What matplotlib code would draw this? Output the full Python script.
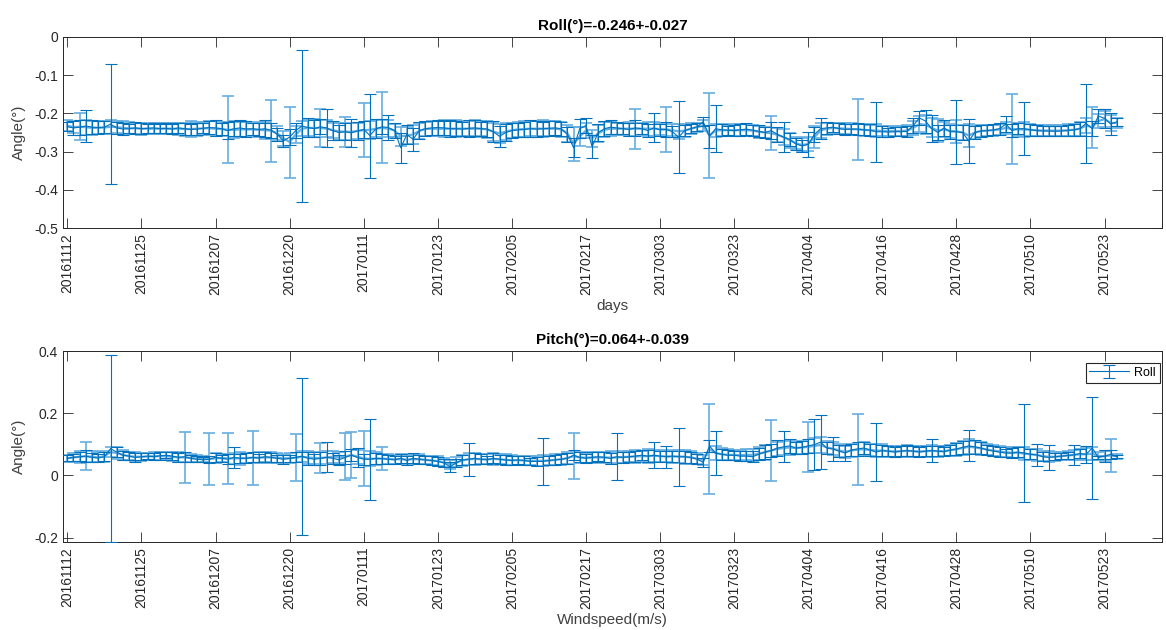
import numpy as np
import matplotlib
matplotlib.use("Agg")
import matplotlib.pyplot as plt

plt.rcParams['font.family'] = ['Liberation Sans', 'DejaVu Sans']

tick_labels = ["20161112", "20161125", "20161207", "20161220", "20170111",
               "20170123", "20170205", "20170217", "20170303", "20170323",
               "20170404", "20170416", "20170428", "20170510", "20170523"]

# ---------------- Roll: raw (dark) ----------------
roll_raw = [
    -0.235, -0.238, -0.236, -0.233, -0.236, -0.237, -0.236, -0.228, -0.238, -0.241,
    -0.240, -0.238, -0.240, -0.239, -0.238, -0.240, -0.239, -0.241, -0.238, -0.240,
    -0.242, -0.241, -0.239, -0.237, -0.238, -0.240, -0.245, -0.240, -0.238, -0.241,
    -0.240, -0.242, -0.240, -0.244, -0.255, -0.272, -0.262, -0.245, -0.233, -0.237,
    -0.240, -0.235, -0.238, -0.245, -0.250, -0.248, -0.251, -0.246, -0.242, -0.258,
    -0.240, -0.235, -0.237, -0.245, -0.290, -0.255, -0.268, -0.245, -0.240, -0.238,
    -0.237, -0.238, -0.240, -0.240, -0.241, -0.239, -0.238, -0.240, -0.241, -0.248,
    -0.260, -0.250, -0.245, -0.243, -0.242, -0.240, -0.241, -0.240, -0.239, -0.238,
    -0.240, -0.255, -0.290, -0.240, -0.232, -0.287, -0.250, -0.240, -0.236, -0.238,
    -0.240, -0.242, -0.238, -0.240, -0.245, -0.238, -0.243, -0.242, -0.248, -0.262,
    -0.245, -0.240, -0.235, -0.222, -0.260, -0.240, -0.243, -0.244, -0.245, -0.243,
    -0.241, -0.244, -0.247, -0.250, -0.245, -0.255, -0.262, -0.268, -0.280, -0.285,
    -0.281, -0.255, -0.240, -0.238, -0.236, -0.240, -0.242, -0.241, -0.241, -0.243,
    -0.244, -0.248, -0.248, -0.249, -0.248, -0.248, -0.247, -0.232, -0.212, -0.220,
    -0.240, -0.250, -0.238, -0.248, -0.248, -0.250, -0.272, -0.250, -0.246, -0.245,
    -0.243, -0.240, -0.228, -0.245, -0.240, -0.240, -0.243, -0.245, -0.246, -0.246,
    -0.247, -0.246, -0.245, -0.243, -0.240, -0.226, -0.240, -0.207, -0.213, -0.228,
    -0.222]
roll_raw_err = [
    0.012, 0.018, 0.020, 0.043, 0.018, 0.017, 0.016, 0.158, 0.015, 0.016,
    0.012, 0.015, 0.014, 0.012, 0.013, 0.012, 0.013, 0.012, 0.014, 0.016,
    0.014, 0.015, 0.013, 0.018, 0.020, 0.016, 0.022, 0.020, 0.022, 0.020,
    0.016, 0.018, 0.022, 0.020, 0.017, 0.016, 0.022, 0.020, 0.198, 0.025,
    0.022, 0.020, 0.049, 0.025, 0.020, 0.022, 0.036, 0.024, 0.022, 0.110,
    0.025, 0.020, 0.033, 0.020, 0.040, 0.025, 0.030, 0.022, 0.020, 0.018,
    0.020, 0.018, 0.022, 0.020, 0.018, 0.022, 0.020, 0.018, 0.020, 0.028,
    0.028, 0.022, 0.020, 0.018, 0.020, 0.022, 0.020, 0.018, 0.020, 0.018,
    0.018, 0.020, 0.025, 0.025, 0.020, 0.030, 0.022, 0.020, 0.018, 0.015,
    0.015, 0.018, 0.020, 0.015, 0.018, 0.038, 0.015, 0.020, 0.015, 0.095,
    0.015, 0.012, 0.010, 0.012, 0.030, 0.061, 0.015, 0.012, 0.014, 0.015,
    0.015, 0.014, 0.016, 0.014, 0.022, 0.020, 0.040, 0.018, 0.016, 0.015,
    0.032, 0.020, 0.028, 0.015, 0.012, 0.014, 0.015, 0.014, 0.016, 0.014,
    0.015, 0.078, 0.014, 0.012, 0.012, 0.012, 0.014, 0.020, 0.018, 0.030,
    0.035, 0.020, 0.022, 0.018, 0.084, 0.020, 0.057, 0.016, 0.015, 0.014,
    0.014, 0.016, 0.020, 0.018, 0.015, 0.069, 0.016, 0.015, 0.014, 0.013,
    0.013, 0.014, 0.015, 0.016, 0.018, 0.103, 0.020, 0.018, 0.025, 0.028,
    0.011]

# ---------------- Roll: smooth (light) ----------------
roll_smooth = [
    -0.232, -0.236, -0.235, -0.236, -0.238, -0.238, -0.237, -0.235, -0.236, -0.238,
    -0.239, -0.239, -0.240, -0.240, -0.240, -0.240, -0.240, -0.240, -0.240, -0.241,
    -0.241, -0.240, -0.239, -0.239, -0.240, -0.241, -0.243, -0.243, -0.242, -0.242,
    -0.242, -0.243, -0.244, -0.245, -0.252, -0.265, -0.275, -0.255, -0.240, -0.238,
    -0.238, -0.238, -0.240, -0.244, -0.247, -0.248, -0.248, -0.246, -0.244, -0.243,
    -0.240, -0.238, -0.240, -0.245, -0.260, -0.258, -0.255, -0.246, -0.241, -0.240,
    -0.240, -0.240, -0.240, -0.240, -0.240, -0.240, -0.240, -0.240, -0.242, -0.248,
    -0.252, -0.248, -0.244, -0.242, -0.241, -0.240, -0.240, -0.240, -0.240, -0.240,
    -0.242, -0.252, -0.280, -0.260, -0.245, -0.265, -0.252, -0.243, -0.240, -0.240,
    -0.240, -0.240, -0.240, -0.240, -0.240, -0.240, -0.241, -0.242, -0.244, -0.247,
    -0.245, -0.240, -0.236, -0.232, -0.258, -0.245, -0.244, -0.244, -0.244, -0.244,
    -0.244, -0.245, -0.248, -0.250, -0.252, -0.256, -0.262, -0.270, -0.278, -0.283,
    -0.280, -0.262, -0.245, -0.240, -0.238, -0.239, -0.240, -0.241, -0.242, -0.243,
    -0.244, -0.245, -0.246, -0.246, -0.246, -0.246, -0.245, -0.238, -0.228, -0.230,
    -0.238, -0.245, -0.242, -0.246, -0.247, -0.250, -0.258, -0.250, -0.246, -0.245,
    -0.244, -0.242, -0.238, -0.241, -0.242, -0.242, -0.243, -0.244, -0.245, -0.245,
    -0.245, -0.245, -0.244, -0.243, -0.240, -0.232, -0.236, -0.220, -0.215, -0.225,
    -0.225]
roll_smooth_err = [
    0.014, 0.016, 0.035, 0.020, 0.018, 0.017, 0.016, 0.018, 0.016, 0.017,
    0.016, 0.015, 0.016, 0.014, 0.015, 0.014, 0.015, 0.014, 0.016, 0.017,
    0.020, 0.018, 0.016, 0.018, 0.020, 0.018, 0.088, 0.022, 0.020, 0.020,
    0.018, 0.020, 0.022, 0.081, 0.018, 0.020, 0.093, 0.022, 0.020, 0.022,
    0.024, 0.050, 0.022, 0.020, 0.022, 0.039, 0.022, 0.020, 0.070, 0.024,
    0.022, 0.093, 0.022, 0.018, 0.025, 0.022, 0.025, 0.020, 0.018, 0.020,
    0.020, 0.022, 0.020, 0.022, 0.020, 0.020, 0.022, 0.020, 0.022, 0.024,
    0.025, 0.022, 0.020, 0.020, 0.022, 0.020, 0.020, 0.022, 0.020, 0.020,
    0.020, 0.022, 0.045, 0.025, 0.020, 0.022, 0.022, 0.020, 0.018, 0.016,
    0.016, 0.018, 0.052, 0.016, 0.018, 0.018, 0.016, 0.058, 0.016, 0.020,
    0.016, 0.014, 0.012, 0.014, 0.112, 0.018, 0.016, 0.014, 0.015, 0.016,
    0.016, 0.015, 0.016, 0.015, 0.045, 0.018, 0.020, 0.020, 0.016, 0.018,
    0.018, 0.028, 0.020, 0.016, 0.014, 0.015, 0.014, 0.015, 0.081, 0.016,
    0.014, 0.016, 0.013, 0.012, 0.013, 0.012, 0.014, 0.018, 0.020, 0.025,
    0.025, 0.030, 0.020, 0.018, 0.030, 0.020, 0.030, 0.018, 0.016, 0.015,
    0.014, 0.015, 0.016, 0.091, 0.016, 0.020, 0.015, 0.014, 0.014, 0.014,
    0.014, 0.014, 0.015, 0.016, 0.018, 0.020, 0.054, 0.018, 0.020, 0.020,
    0.012]

# ---------------- Pitch: raw (dark) ----------------
pitch_raw = [
    0.055, 0.058, 0.060, 0.062, 0.058, 0.056, 0.060, 0.086, 0.075, 0.065,
    0.062, 0.058, 0.060, 0.062, 0.060, 0.063, 0.065, 0.062, 0.058, 0.060,
    0.055, 0.052, 0.050, 0.052, 0.058, 0.055, 0.052, 0.058, 0.055, 0.055,
    0.058, 0.056, 0.060, 0.058, 0.055, 0.052, 0.055, 0.058, 0.062, 0.055,
    0.052, 0.055, 0.058, 0.055, 0.050, 0.058, 0.065, 0.058, 0.052, 0.052,
    0.055, 0.054, 0.052, 0.050, 0.055, 0.048, 0.055, 0.052, 0.050, 0.048,
    0.045, 0.040, 0.028, 0.040, 0.050, 0.052, 0.055, 0.052, 0.050, 0.055,
    0.052, 0.050, 0.048, 0.050, 0.048, 0.045, 0.045, 0.045, 0.048, 0.050,
    0.052, 0.055, 0.065, 0.058, 0.055, 0.058, 0.060, 0.058, 0.055, 0.060,
    0.058, 0.060, 0.062, 0.065, 0.062, 0.065, 0.062, 0.060, 0.062, 0.060,
    0.060, 0.058, 0.052, 0.042, 0.095, 0.072, 0.068, 0.065, 0.065, 0.062,
    0.062, 0.060, 0.068, 0.075, 0.080, 0.088, 0.092, 0.095, 0.088, 0.090,
    0.095, 0.099, 0.107, 0.088, 0.085, 0.078, 0.072, 0.082, 0.085, 0.088,
    0.082, 0.075, 0.080, 0.078, 0.075, 0.078, 0.080, 0.078, 0.075, 0.078,
    0.080, 0.078, 0.076, 0.082, 0.085, 0.090, 0.095, 0.092, 0.088, 0.082,
    0.078, 0.075, 0.072, 0.072, 0.075, 0.072, 0.068, 0.066, 0.060, 0.058,
    0.060, 0.062, 0.064, 0.066, 0.070, 0.068, 0.088, 0.058, 0.062, 0.068,
    0.060]
pitch_raw_err = [
    0.010, 0.012, 0.015, 0.020, 0.015, 0.014, 0.015, 0.300, 0.015, 0.014,
    0.012, 0.014, 0.012, 0.010, 0.012, 0.012, 0.010, 0.012, 0.014, 0.016,
    0.012, 0.010, 0.008, 0.012, 0.014, 0.012, 0.016, 0.034, 0.014, 0.016,
    0.016, 0.014, 0.016, 0.014, 0.012, 0.014, 0.012, 0.016, 0.252, 0.020,
    0.018, 0.020, 0.048, 0.018, 0.016, 0.020, 0.020, 0.031, 0.018, 0.130,
    0.018, 0.016, 0.014, 0.012, 0.015, 0.014, 0.016, 0.014, 0.012, 0.014,
    0.014, 0.012, 0.016, 0.014, 0.016, 0.053, 0.018, 0.016, 0.014, 0.016,
    0.014, 0.016, 0.014, 0.012, 0.014, 0.012, 0.014, 0.076, 0.014, 0.016,
    0.016, 0.018, 0.016, 0.016, 0.014, 0.016, 0.014, 0.016, 0.018, 0.075,
    0.018, 0.016, 0.018, 0.016, 0.020, 0.042, 0.018, 0.036, 0.018, 0.094,
    0.020, 0.018, 0.016, 0.014, 0.020, 0.072, 0.018, 0.016, 0.014, 0.016,
    0.016, 0.018, 0.020, 0.022, 0.020, 0.025, 0.050, 0.022, 0.018, 0.020,
    0.022, 0.082, 0.087, 0.020, 0.038, 0.020, 0.027, 0.020, 0.022, 0.020,
    0.018, 0.092, 0.018, 0.016, 0.015, 0.016, 0.018, 0.016, 0.015, 0.016,
    0.038, 0.016, 0.015, 0.016, 0.018, 0.020, 0.050, 0.022, 0.018, 0.016,
    0.016, 0.015, 0.014, 0.015, 0.016, 0.159, 0.016, 0.035, 0.014, 0.039,
    0.012, 0.010, 0.012, 0.033, 0.015, 0.027, 0.165, 0.006, 0.020, 0.015,
    0.005]

# ---------------- Pitch: smooth (light) ----------------
pitch_smooth = [
    0.055, 0.058, 0.060, 0.062, 0.060, 0.058, 0.062, 0.075, 0.072, 0.066,
    0.062, 0.060, 0.060, 0.061, 0.062, 0.062, 0.062, 0.060, 0.058, 0.058,
    0.056, 0.054, 0.053, 0.053, 0.055, 0.056, 0.055, 0.055, 0.055, 0.056,
    0.057, 0.057, 0.058, 0.058, 0.057, 0.055, 0.055, 0.057, 0.060, 0.058,
    0.056, 0.056, 0.058, 0.060, 0.058, 0.060, 0.066, 0.060, 0.055, 0.053,
    0.054, 0.054, 0.053, 0.052, 0.052, 0.051, 0.052, 0.052, 0.050, 0.048,
    0.046, 0.042, 0.036, 0.042, 0.048, 0.052, 0.053, 0.052, 0.052, 0.053,
    0.052, 0.050, 0.049, 0.049, 0.048, 0.047, 0.047, 0.047, 0.048, 0.050,
    0.052, 0.056, 0.062, 0.058, 0.057, 0.058, 0.058, 0.058, 0.057, 0.058,
    0.059, 0.060, 0.061, 0.062, 0.062, 0.063, 0.062, 0.061, 0.061, 0.061,
    0.060, 0.058, 0.054, 0.050, 0.085, 0.072, 0.068, 0.066, 0.066, 0.065,
    0.066, 0.066, 0.070, 0.075, 0.080, 0.085, 0.088, 0.090, 0.088, 0.090,
    0.092, 0.095, 0.098, 0.090, 0.086, 0.080, 0.076, 0.080, 0.083, 0.084,
    0.082, 0.080, 0.080, 0.078, 0.077, 0.078, 0.079, 0.078, 0.077, 0.078,
    0.079, 0.078, 0.078, 0.081, 0.084, 0.088, 0.092, 0.090, 0.087, 0.083,
    0.080, 0.077, 0.074, 0.073, 0.073, 0.070, 0.068, 0.066, 0.062, 0.060,
    0.060, 0.062, 0.064, 0.066, 0.068, 0.068, 0.070, 0.062, 0.062, 0.064,
    0.062]
pitch_smooth_err = [
    0.012, 0.014, 0.020, 0.046, 0.018, 0.016, 0.018, 0.016, 0.018, 0.016,
    0.014, 0.014, 0.013, 0.012, 0.012, 0.014, 0.012, 0.014, 0.016, 0.082,
    0.014, 0.012, 0.010, 0.085, 0.016, 0.014, 0.083, 0.018, 0.020, 0.016,
    0.087, 0.018, 0.016, 0.018, 0.016, 0.014, 0.016, 0.075, 0.018, 0.020,
    0.020, 0.049, 0.022, 0.020, 0.018, 0.076, 0.074, 0.022, 0.088, 0.024,
    0.020, 0.036, 0.016, 0.014, 0.016, 0.014, 0.015, 0.016, 0.014, 0.016,
    0.016, 0.014, 0.014, 0.016, 0.018, 0.020, 0.018, 0.016, 0.016, 0.018,
    0.016, 0.018, 0.016, 0.014, 0.016, 0.014, 0.016, 0.018, 0.016, 0.018,
    0.018, 0.020, 0.073, 0.018, 0.016, 0.018, 0.016, 0.018, 0.020, 0.018,
    0.020, 0.018, 0.020, 0.018, 0.022, 0.020, 0.020, 0.018, 0.020, 0.022,
    0.022, 0.020, 0.018, 0.016, 0.146, 0.022, 0.020, 0.018, 0.016, 0.018,
    0.018, 0.020, 0.022, 0.024, 0.099, 0.024, 0.022, 0.024, 0.020, 0.022,
    0.081, 0.024, 0.026, 0.022, 0.020, 0.022, 0.020, 0.022, 0.113, 0.022,
    0.020, 0.022, 0.020, 0.018, 0.017, 0.018, 0.020, 0.018, 0.017, 0.018,
    0.020, 0.018, 0.016, 0.018, 0.020, 0.022, 0.024, 0.022, 0.020, 0.018,
    0.018, 0.017, 0.016, 0.017, 0.018, 0.020, 0.018, 0.020, 0.016, 0.018,
    0.014, 0.012, 0.014, 0.016, 0.018, 0.020, 0.022, 0.012, 0.016, 0.053,
    0.008]

DARK = '#0072BD'
LIGHT = '#66AEE0'
TXT = '#262626'

x = np.arange(len(roll_raw))
tick_pos = x[::12][:len(tick_labels)]

fig = plt.figure(figsize=(11.66, 6.30), dpi=100)
ax1 = fig.add_axes([63/1166, 1 - 228/630, 1099/1166, 191/630])
ax2 = fig.add_axes([63/1166, 1 - 542/630, 1099/1166, 191/630])


def draw(ax, ysm, esm, yraw, eraw, label=None):
    ax.errorbar(x, ysm, yerr=esm, color=LIGHT, lw=1.6, elinewidth=1.2,
                capsize=4, capthick=1.2, zorder=2)
    ax.errorbar(x, yraw, yerr=eraw, color=DARK, lw=0.8, elinewidth=0.8,
                capsize=4, capthick=0.8, zorder=3, label=label)
    ax.set_xlim(-0.7, 177.3)
    ax.set_xticks(tick_pos)
    ax.set_xticklabels(tick_labels, rotation=90, fontsize=10, color=TXT)
    ax.tick_params(direction='in', length=7, width=0.6, colors=TXT,
                   top=True, right=True, labelsize=10)
    for s in ax.spines.values():
        s.set_color(TXT)
        s.set_linewidth(0.7)


draw(ax1, roll_smooth, roll_smooth_err, roll_raw, roll_raw_err)
ax1.set_ylim(-0.5, 0)
ax1.set_yticks([-0.5, -0.4, -0.3, -0.2, -0.1, 0])
ax1.set_yticklabels(['-0.5', '-0.4', '-0.3', '-0.2', '-0.1', '0'])
ax1.set_title('Roll(°)=-0.246+-0.027', fontsize=11, fontweight='bold', color='black', pad=5)
ax1.set_xlabel('days', fontsize=11, color='#404040', labelpad=3)
ax1.set_ylabel('Angle(°)', fontsize=11, color='#404040', labelpad=6)

draw(ax2, pitch_smooth, pitch_smooth_err, pitch_raw, pitch_raw_err, label='Roll')
ax2.set_ylim(-0.214, 0.4)
ax2.set_yticks([-0.2, 0, 0.2, 0.4])
ax2.set_yticklabels(['-0.2', '0', '0.2', '0.4'])
ax2.set_title('Pitch(°)=0.064+-0.039', fontsize=11, fontweight='bold', color='black', pad=5)
ax2.set_xlabel('Windspeed(m/s)', fontsize=11, color='#404040', labelpad=3)
ax2.set_ylabel('Angle(°)', fontsize=11, color='#404040', labelpad=6)
leg = ax2.legend(loc='upper right', bbox_to_anchor=(0.998, 0.937), borderaxespad=0,
                 fontsize=9, fancybox=False, framealpha=1, edgecolor=TXT,
                 handlelength=3.2, borderpad=0.3, handletextpad=0.4)
leg.get_frame().set_linewidth(0.8)

fig.savefig('out.png', dpi=100)
